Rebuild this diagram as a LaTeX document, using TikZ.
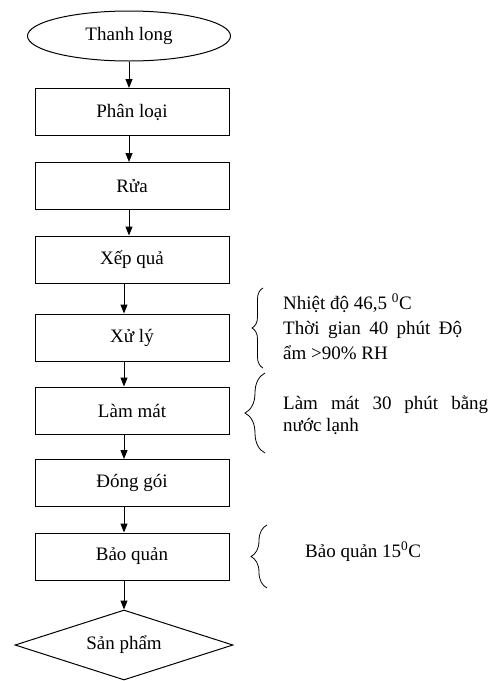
\documentclass[tikz,border=0pt]{standalone}
\usepackage{fontspec}
\setmainfont{Liberation Serif}
\usetikzlibrary{arrows.meta,shapes.geometric,decorations.pathreplacing}
\begin{document}
\begin{tikzpicture}[x=1pt,y=-1pt,
  every node/.style={font=\fontsize{19}{24}\selectfont},
  stepbox/.style={draw, line width=1pt, minimum width=194pt, minimum height=47pt, inner sep=0pt},
  startnode/.style={draw, ellipse, line width=1pt, minimum width=203pt, minimum height=50pt, inner sep=0pt},
  endnode/.style={draw, diamond, line width=1pt, minimum width=218pt, minimum height=70pt, inner sep=0pt, aspect=3},
  flow/.style={line width=1pt, -{Triangle[length=9pt,width=7pt]}},
  curly/.style={line width=0.8pt, decorate, decoration={brace, amplitude=#1}},
  note/.style={anchor=base west, align=left, inner sep=0pt}
]
\fill[white] (0,0) rectangle (494,681);
\useasboundingbox (0,0) rectangle (494,681);

% process chain
\node[startnode] (start) at (129,36) {Thanh long};
\node[stepbox] (b1) at (132,112) {Phân loại};
\node[stepbox] (b2) at (132,186) {Rửa};
\node[stepbox] (b3) at (132,259.5) {Xếp quả};
\node[stepbox] (b4) at (132,337.5) {Xử lý};
\node[stepbox] (b5) at (132,410.5) {Làm mát};
\node[stepbox] (b6) at (132,483) {Đóng gói};
\node[stepbox] (b7) at (132,556.5) {Bảo quản};
\node[endnode] (end) at (124,645) {Sản phẩm};

\draw[flow] (start.south) -- (start.south |- b1.north);
\draw[flow] (b1.south -| start.south) -- (b2.north -| start.south);
\draw[flow] (b2.south -| start.south) -- (b3.north -| start.south);
\draw[flow] (b3.south -| end.north) -- (b4.north -| end.north);
\draw[flow] (b4.south -| end.north) -- (b5.north -| end.north);
\draw[flow] (b5.south -| end.north) -- (b6.north -| end.north);
\draw[flow] (b6.south -| end.north) -- (b7.north -| end.north);
\draw[flow] (b7.south -| end.north) -- (end.north);

% conditions for the steps (node base = last line)
\draw[curly=11pt] (263,368) -- (263,288);
\node[note, font=\fontsize{19}{25}\selectfont] (n1) at (283,359)
  {Nhiệt độ 46,5 \textsuperscript{0}C\\\makebox[179pt][s]{Thời gian 40 phút Độ}\\ẩm >90\% RH};

\draw[curly=20pt] (265,453) -- (265,373);
\node[note, font=\fontsize{19}{22}\selectfont] (n2) at (283,431)
  {\makebox[205pt][s]{Làm mát 30 phút bằng}\\nước lạnh};

\draw[curly=16pt] (267,588) -- (267,525);
\node[note] (n3) at (305,557) {Bảo quản 15\textsuperscript{0}C};
\end{tikzpicture}
\end{document}
